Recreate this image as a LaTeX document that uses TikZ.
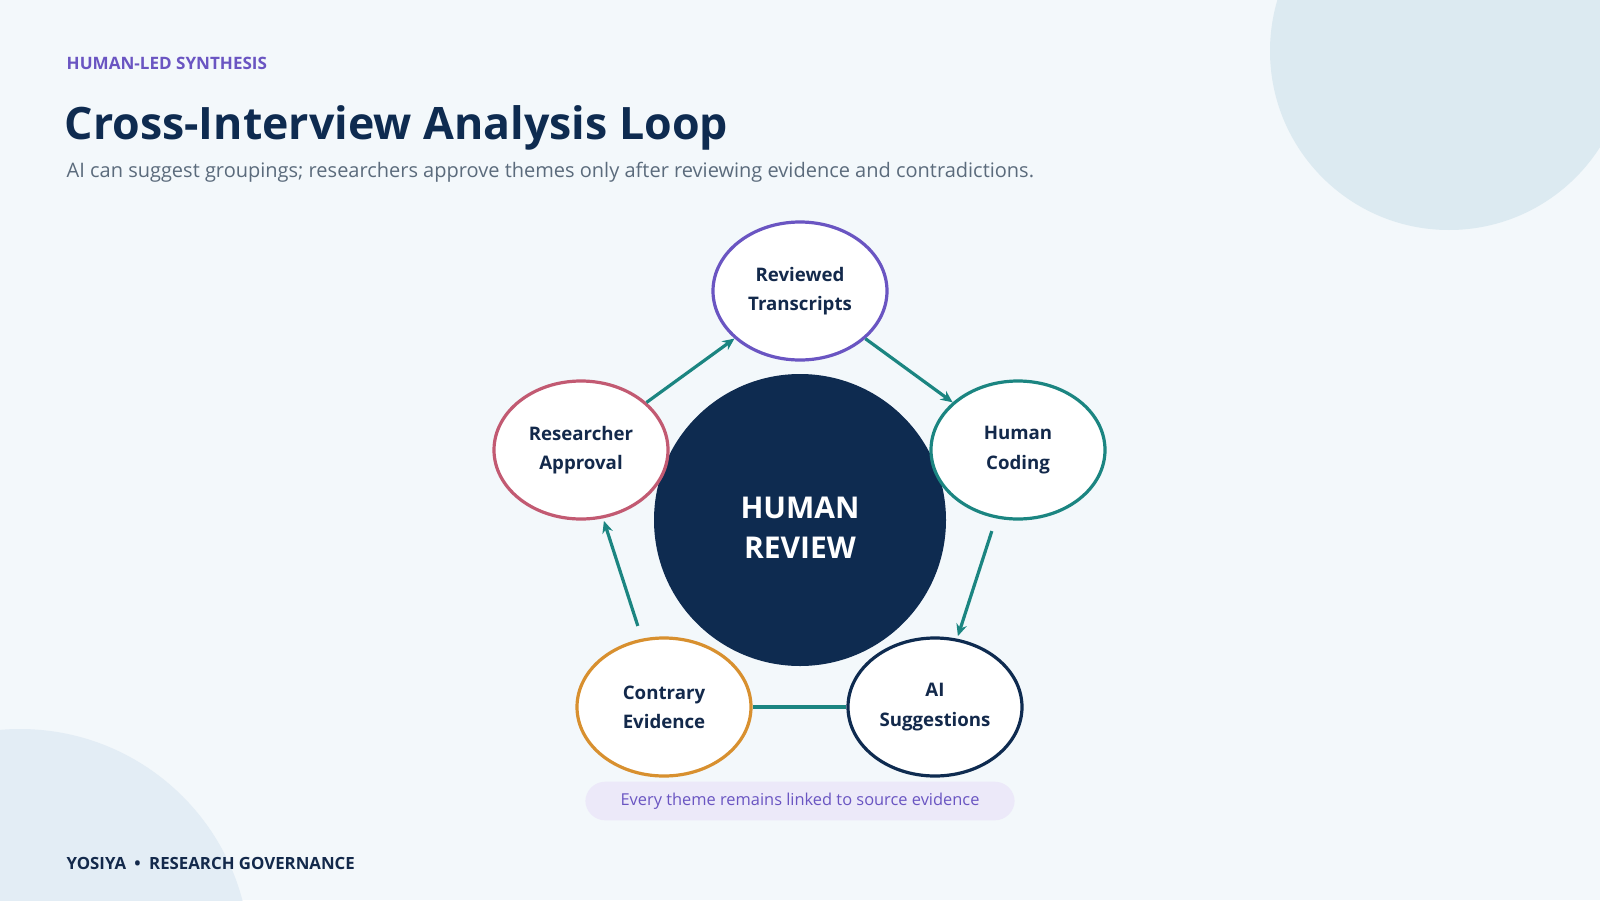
\documentclass[tikz,border=0pt]{standalone}
\usepackage{fontspec}
\setmainfont{Open Sans}
\usetikzlibrary{arrows.meta,shapes.geometric}
\definecolor{bg}{HTML}{F3F8FB}
\definecolor{blob}{HTML}{DCEAF1}
\definecolor{blob2}{HTML}{E3EDF5}
\definecolor{navy}{HTML}{0E2B50}
\definecolor{ink}{HTML}{13294B}
\definecolor{purp}{HTML}{6A55C2}
\definecolor{sub}{HTML}{5B6B7C}
\definecolor{teal}{HTML}{1B8581}
\definecolor{rose}{HTML}{C25A72}
\definecolor{gold}{HTML}{D8902F}
\definecolor{pill}{HTML}{ECE9F9}
\begin{document}
\begin{tikzpicture}[x=0.75pt,y=-0.75pt,
  stage/.style={ellipse,draw,line width=2.4pt,fill=white,
    minimum width=130.5pt,minimum height=103.5pt,inner sep=0pt,align=center,
    font=\fontsize{14}{22}\selectfont\bfseries,text=ink},
  flow/.style={draw=teal,line width=2.4pt,-{Stealth[length=9pt,width=8pt]}}]
\useasboundingbox (0,0) rectangle (1600,900);
\fill[bg] (0,0) rectangle (1600,900);
\begin{scope}
\clip (0,0) rectangle (1600,900);
\fill[blob] (1449,51) circle[radius=179];
\fill[blob2] (20,959) circle[radius=230];
\end{scope}
\node[anchor=west,text=purp,font=\fontsize{12.8}{15}\selectfont\bfseries] (hdr) at (62,63) {HUMAN-LED SYNTHESIS};
\node[anchor=west,text=navy,font=\fontsize{33.5}{40}\selectfont\bfseries] (ttl) at (60,128) {Cross-Interview Analysis Loop};
\node[anchor=west,text=sub,font=\fontsize{15}{18}\selectfont] (st) at (62,172) {AI can suggest groupings; researchers approve themes only after reviewing evidence and contradictions.};
\node[circle,fill=navy,minimum size=219pt,inner sep=0pt] (hub) at (800,520) {};
\node[align=center,text=white,font=\fontsize{22.5}{30}\selectfont\bfseries] (hubtxt) at (800,528) {HUMAN\\REVIEW};
\node[stage,draw=purp] (rt) at (800,291) {Reviewed\\Transcripts};
\node[stage,draw=teal] (hc) at (1018,450) {Human\\Coding};
\node[stage,draw=navy] (ai) at (935,707) {AI\\Suggestions};
\node[stage,draw=gold] (ce) at (664,707) {Contrary\\Evidence};
\node[stage,draw=rose] (ra) at (581,450) {Researcher\\Approval};
\draw[flow] (ra) -- (rt);
\draw[flow] (rt) -- (hc);
\draw[flow,shorten <=10pt,shorten >=2pt] (hc) -- (ai);
\draw[draw=teal,line width=2.6pt] (ai) -- (ce);
\draw[flow,shorten <=10pt,shorten >=2pt] (ce) -- (ra);
\node[fill=pill,rounded corners=15pt,minimum width=322pt,minimum height=29pt,
  text=purp,font=\fontsize{12.3}{14}\selectfont] (note) at (800,801) {Every theme remains linked to source evidence};
\node[anchor=west,text=ink,font=\fontsize{12.6}{15}\selectfont\bfseries] (ft) at (62,863) {YOSIYA\enspace\textbullet\enspace RESEARCH GOVERNANCE};
\end{tikzpicture}
\end{document}
